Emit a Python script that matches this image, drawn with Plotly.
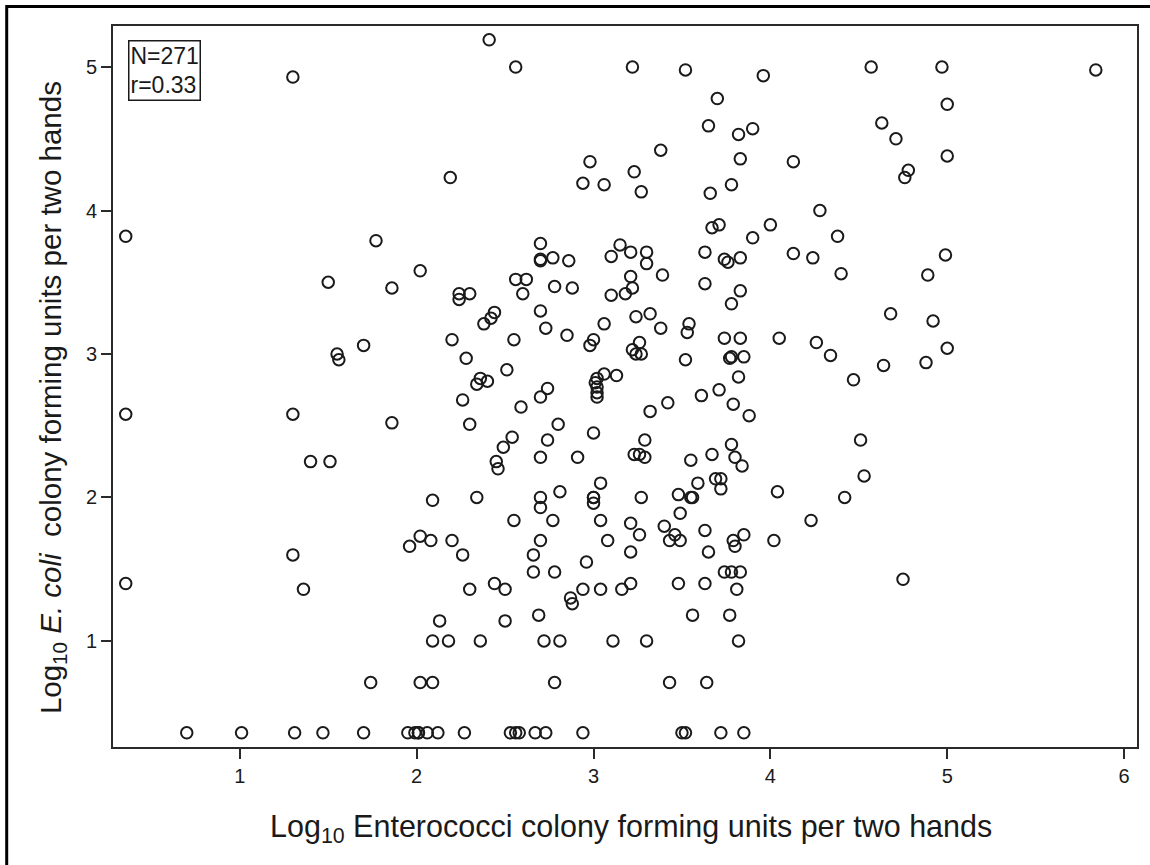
import plotly.graph_objects as go

# Log10 Enterococci CFU per two hands (x) vs log10 E. coli CFU per two hands (y)
bottom_x = [0.70, 1.01, 1.31, 1.47, 1.70, 1.95, 1.99, 2.01, 2.01, 2.06, 2.12,
            2.27, 2.53, 2.56, 2.58, 2.67, 2.73, 2.94, 3.50, 3.52, 3.72, 3.85]
bottom_y = [0.36] * len(bottom_x)

left_x = [1.30, 2.19, 0.355, 1.77, 1.50, 2.02, 1.86, 2.20, 1.70, 1.55, 1.56,
          0.355, 1.30, 1.86, 1.40, 1.51, 2.09, 2.02, 2.08, 1.96, 2.20, 1.30,
          0.355, 1.36, 2.13, 2.09, 2.18, 1.74, 2.02, 2.09]
left_y = [4.93, 4.23, 3.82, 3.79, 3.50, 3.58, 3.46, 3.10, 3.06, 3.00, 2.96,
          2.58, 2.58, 2.52, 2.25, 2.25, 1.98, 1.73, 1.70, 1.66, 1.70, 1.60,
          1.40, 1.36, 1.14, 1.00, 1.00, 0.71, 0.71, 0.71]

upper_x = [2.41, 2.56, 3.22, 3.52, 3.96, 3.70, 3.65, 3.82, 3.90, 3.38,
           3.83, 4.13, 2.98, 3.23, 2.94, 3.06, 3.27, 3.66, 3.78, 3.67,
           3.71, 4.00, 3.90, 4.13, 2.70, 2.70, 2.70, 2.77, 2.86, 3.15,
           3.10, 3.21, 3.30, 3.30, 3.39, 3.63, 3.74, 3.76, 3.83, 2.56,
           2.62, 2.60, 2.78, 2.88, 3.21, 3.22, 3.10, 3.18, 3.63, 3.83,
           3.78, 2.24, 2.24, 2.30, 2.44, 2.42, 2.38, 2.70, 2.73, 2.85,
           3.06, 3.24, 3.32, 3.38, 3.54, 3.53, 3.74, 3.83, 4.05, 2.55,
           3.00, 2.98, 3.26, 3.22, 3.24, 3.27, 3.52, 3.78, 3.77, 3.85,
           2.28, 2.51, 3.82, 2.36, 2.40, 2.34, 3.06, 3.02, 3.01, 3.13]
upper_y = [5.19, 5.00, 5.00, 4.98, 4.94, 4.78, 4.59, 4.53, 4.57, 4.42,
           4.36, 4.34, 4.34, 4.27, 4.19, 4.18, 4.13, 4.12, 4.18, 3.88,
           3.90, 3.90, 3.81, 3.70, 3.77, 3.66, 3.65, 3.67, 3.65, 3.76,
           3.68, 3.71, 3.71, 3.63, 3.55, 3.71, 3.66, 3.64, 3.67, 3.52,
           3.52, 3.42, 3.47, 3.46, 3.54, 3.46, 3.41, 3.42, 3.49, 3.44,
           3.35, 3.42, 3.38, 3.42, 3.29, 3.25, 3.21, 3.30, 3.18, 3.13,
           3.21, 3.26, 3.28, 3.18, 3.21, 3.15, 3.11, 3.11, 3.11, 3.10,
           3.10, 3.06, 3.08, 3.03, 3.00, 3.00, 2.96, 2.98, 2.97, 2.98,
           2.97, 2.89, 2.84, 2.83, 2.81, 2.79, 2.86, 2.83, 2.80, 2.85]

lower_x = [2.74, 3.02, 3.02, 3.02, 2.70, 2.26, 2.59, 3.42, 3.32, 3.61,
           3.71, 3.79, 3.88, 2.30, 2.80, 2.54, 2.49, 2.45, 2.46, 2.74,
           3.00, 2.70, 2.91, 3.29, 3.23, 3.26, 3.29, 3.55, 3.67, 3.78,
           3.80, 3.84, 2.34, 2.70, 2.70, 2.81, 3.00, 3.00, 3.00, 3.04,
           3.27, 3.59, 3.48, 3.55, 3.56, 3.69, 3.72, 3.72, 4.04, 3.49,
           2.55, 2.77, 3.04, 3.21, 3.40, 3.26, 3.46, 3.43, 3.49, 3.63,
           3.79, 3.80, 3.85, 4.02, 2.70, 3.08, 2.26, 2.66, 3.21, 3.65,
           2.96, 2.66, 2.78, 3.74, 3.78, 3.83, 2.30, 2.44, 2.50, 2.94,
           3.04, 3.16, 3.21, 3.48, 3.63, 3.81, 2.87, 2.88, 2.50, 2.69,
           3.56, 3.77, 2.36, 2.72, 2.81, 3.11, 3.30, 3.82, 2.78, 3.43,
           3.64]
lower_y = [2.76, 2.77, 2.73, 2.70, 2.70, 2.68, 2.63, 2.66, 2.60, 2.71,
           2.75, 2.65, 2.57, 2.51, 2.51, 2.42, 2.35, 2.25, 2.20, 2.40,
           2.45, 2.28, 2.28, 2.40, 2.30, 2.30, 2.28, 2.26, 2.30, 2.37,
           2.28, 2.22, 2.00, 2.00, 1.93, 2.04, 2.00, 2.00, 1.96, 2.10,
           2.00, 2.10, 2.02, 2.00, 2.00, 2.13, 2.13, 2.06, 2.04, 1.89,
           1.84, 1.84, 1.84, 1.82, 1.80, 1.74, 1.74, 1.70, 1.70, 1.77,
           1.70, 1.66, 1.74, 1.70, 1.70, 1.70, 1.60, 1.60, 1.62, 1.62,
           1.55, 1.48, 1.48, 1.48, 1.48, 1.48, 1.36, 1.40, 1.36, 1.36,
           1.36, 1.36, 1.40, 1.40, 1.40, 1.36, 1.30, 1.26, 1.14, 1.18,
           1.18, 1.18, 1.00, 1.00, 1.00, 1.00, 1.00, 1.00, 0.71, 0.71,
           0.71]

right_x = [4.57, 4.97, 5.84, 5.00, 4.63, 4.71, 5.00, 4.78, 4.76, 4.28,
           4.38, 4.24, 4.40, 4.99, 4.89, 4.68, 4.92, 4.26, 4.34, 5.00,
           4.64, 4.88, 4.47, 4.51, 4.53, 4.42, 4.23, 4.75]
right_y = [5.00, 5.00, 4.98, 4.74, 4.61, 4.50, 4.38, 4.28, 4.23, 4.00,
           3.82, 3.67, 3.56, 3.69, 3.55, 3.28, 3.23, 3.08, 2.99, 3.04,
           2.92, 2.94, 2.82, 2.40, 2.15, 2.00, 1.84, 1.43]

x_vals = bottom_x + left_x + upper_x + lower_x + right_x
y_vals = bottom_y + left_y + upper_y + lower_y + right_y

x_ticks = [1, 2, 3, 4, 5, 6]
y_ticks = [1, 2, 3, 4, 5]

x_title = "Log<sub>10</sub> Enterococci colony forming units per two hands"
y_title = "Log<sub>10</sub> <i>E. coli</i>  colony forming units per two hands"
stats_text = "N=271<br>r=0.33"

FONT = "Arial, Liberation Sans, sans-serif"
INK = "#1a1a1a"

fig = go.Figure(
    go.Scatter(
        x=x_vals,
        y=y_vals,
        mode="markers",
        marker=dict(symbol="circle-open", size=11.5, color=INK,
                    line=dict(width=2, color=INK)),
        hoverinfo="x+y",
    )
)

# plot area geometry (pixels) used to place the frame and titles
W, H = 1150, 865
ML, MR, MT, MB = 113, 11, 26, 118
pw, ph = W - ML - MR, H - MT - MB

def px_x(p):
    return (p - ML) / pw

def px_y(p):
    return (H - MB - p) / ph

# outer figure frame, running off the right and bottom edges
fig.add_shape(
    type="rect", xref="paper", yref="paper",
    x0=px_x(6.5), x1=px_x(1200), y0=px_y(920), y1=px_y(6.5),
    line=dict(color="black", width=3), fillcolor="rgba(0,0,0,0)",
    layer="above",
)

# N / r box
fig.add_annotation(
    xref="paper", yref="paper",
    x=px_x(128), y=px_y(40), xanchor="left", yanchor="top",
    text=stats_text, align="left", showarrow=False,
    font=dict(family=FONT, size=23, color=INK),
    bordercolor=INK, borderwidth=1.5, borderpad=1, bgcolor="white",
)

# axis titles
fig.add_annotation(
    xref="paper", yref="paper",
    x=px_x(632), y=px_y(828), xanchor="center", yanchor="middle",
    text=x_title, showarrow=False,
    font=dict(family=FONT, size=30.5, color=INK),
)
fig.add_annotation(
    xref="paper", yref="paper",
    x=px_x(52), y=px_y(398), xanchor="center", yanchor="middle",
    text=y_title, showarrow=False, textangle=-90,
    font=dict(family=FONT, size=29.5, color=INK),
)

axis_common = dict(
    showgrid=False, zeroline=False, showline=True, mirror=True,
    linecolor="#2a2a2a", linewidth=2,
    ticks="outside", ticklen=10, tickwidth=1.5, tickcolor="#2a2a2a",
    tickfont=dict(family=FONT, size=20, color=INK),
)

fig.update_layout(
    width=W, height=H,
    margin=dict(l=ML, r=MR, t=MT, b=MB),
    paper_bgcolor="white", plot_bgcolor="white",
    showlegend=False,
    font=dict(family=FONT, color=INK),
    xaxis=dict(
        range=[0.283, 6.073], tickvals=x_ticks,
        ticktext=[str(v) for v in x_ticks],
        **axis_common,
    ),
    yaxis=dict(
        range=[0.261, 5.286], tickvals=y_ticks,
        ticktext=[str(v) for v in y_ticks],
        **axis_common,
    ),
)

fig.write_html("out.html")
